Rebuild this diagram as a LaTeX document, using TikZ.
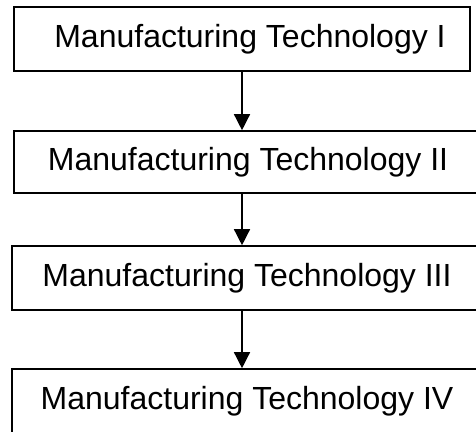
\documentclass[tikz,border=0pt]{standalone}
\usepackage{fontspec}
\setmainfont{Liberation Sans}
\usetikzlibrary{arrows.meta}

\tikzset{
  techbox/.style={draw,line width=1.6pt,inner sep=0pt,font=\fontsize{32}{38}\selectfont},
  flowarrow/.style={line width=1.4pt,-{Triangle[width=16pt,length=16pt]}}
}

\begin{document}
\begin{tikzpicture}[x=1pt,y=1pt]
    \useasboundingbox (0,0) rectangle (476,-431);
    \fill[white] (0,0) rectangle (476,-431);
    \clip (0,0) rectangle (476,-431);

    % the four course boxes
    \node[techbox,minimum width=456pt,minimum height=64pt] (mt1) at (242,-39) {\hspace*{16pt}Manufacturing Technology I};
    \node[techbox,minimum width=468pt,minimum height=62pt] (mt2) at (248,-162) {Manufacturing Technology II};
    \node[techbox,minimum width=470pt,minimum height=64pt] (mt3) at (247,-278) {Manufacturing Technology III};
    \node[techbox,minimum width=470pt,minimum height=64pt] (mt4) at (247,-401) {Manufacturing Technology IV};

    % arrows
    \draw[flowarrow] (mt1.south) -- (mt1.south |- mt2.north);
    \draw[flowarrow] (mt1 |- mt2.south) -- (mt1 |- mt3.north);
    \draw[flowarrow] (mt1 |- mt3.south) -- (mt1 |- mt4.north);
\end{tikzpicture}
\end{document}
